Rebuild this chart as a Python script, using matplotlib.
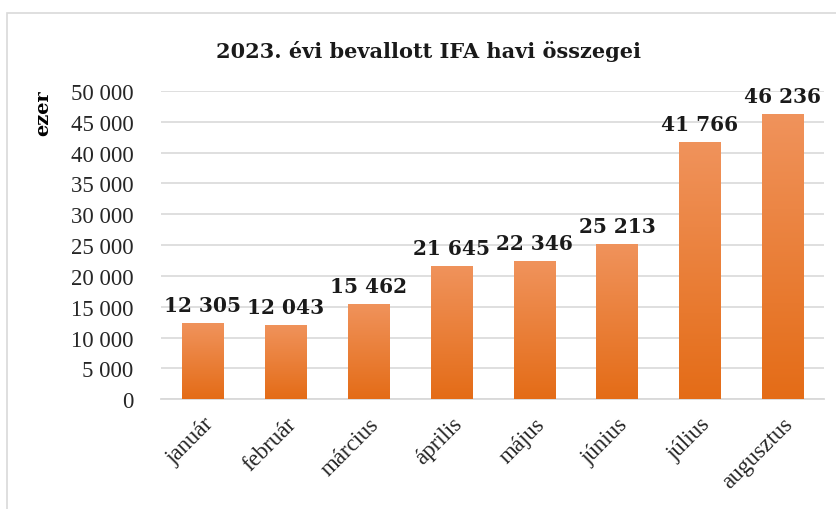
import numpy as np
import matplotlib
matplotlib.use("Agg")
import matplotlib.pyplot as plt
from matplotlib.colors import LinearSegmentedColormap
from matplotlib.patches import Rectangle

months = ["január", "február", "március", "április", "május", "június", "július", "augusztus"]
values = [12305, 12043, 15462, 21645, 22346, 25213, 41766, 46236]
title = "2023. évi bevallott IFA havi összegei"
y_label = "ezer"
y_ticks = list(range(0, 50001, 5000))

SERIF = ["Liberation Serif", "DejaVu Serif"]
LABEL_FONT = ["DejaVu Serif"]

plt.rcParams["font.family"] = SERIF

fig = plt.figure(figsize=(8.36, 5.10), dpi=100)
ax = fig.add_axes([0.193, 0.215, 0.793, 0.605])

# outer chart frame
fig.patches.append(Rectangle((0.008, -0.01), 1.1, 0.983, transform=fig.transFigure,
                             fill=False, edgecolor="#d9d9d9", linewidth=1.2))

x = np.arange(len(months))
bars = ax.bar(x, values, width=0.5, color="#ED7D31", zorder=3)

# vertical gradient inside each bar
grad = LinearSegmentedColormap.from_list("bar", ["#E46C17", "#F0935C"])
gimg = np.linspace(0, 1, 256).reshape(-1, 1)
for b in bars:
    im = ax.imshow(gimg, cmap=grad, aspect="auto", origin="lower", zorder=4,
                   extent=[b.get_x(), b.get_x() + b.get_width(), 0, b.get_height()])
    im.set_clip_path(b)

for xi, v in zip(x, values):
    ax.text(xi, v + 1300, f"{v:,}".replace(",", " "), ha="center", va="bottom",
            fontsize=14.5, fontweight="bold", family=LABEL_FONT, color="#1a1a1a", zorder=5)

ax.set_xlim(-0.5, len(months) - 0.5)
ax.set_ylim(0, 50000)
ax.set_yticks(y_ticks)
ax.set_yticklabels([f"{t:,}".replace(",", " ") for t in y_ticks], fontsize=16.5, color="#262626")
ax.set_xticks(x)
ax.set_xticklabels(months, rotation=45, ha="right", rotation_mode="anchor",
                   fontsize=16.5, color="#262626")
ax.tick_params(axis="y", length=0, pad=20)
ax.tick_params(axis="x", length=0, pad=10)

ax.grid(axis="y", color="#dcdcdc", linewidth=1.3, zorder=0)
for s in ["top", "right", "left"]:
    ax.spines[s].set_visible(False)
ax.spines["bottom"].set_color("#d9d9d9")
ax.spines["bottom"].set_linewidth(1.3)

ax.set_ylabel(y_label, fontsize=14, fontweight="bold", family=LABEL_FONT)
ax.yaxis.set_label_coords(-0.165, 0.93)

fig.text(0.512, 0.9, title, ha="center", va="center", fontsize=15,
         fontweight="bold", family=LABEL_FONT, color="#1a1a1a")

fig.savefig("out.png", dpi=100)
